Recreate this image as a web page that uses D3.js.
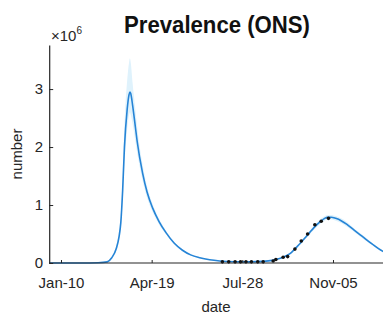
<!DOCTYPE html>
<html>
<head>
<meta charset="utf-8">
<script src="https://cdn.jsdelivr.net/npm/d3@7"></script>
<style>
  body { margin: 0; background: #fff; }
  svg { display: block; font-family: "Liberation Sans", Arial, sans-serif; }
</style>
</head>
<body>
<div id="container"></div>
<script>
/* DATA (values in millions) */
const curveDates = ["2019-12-28","2020-02-01","2020-02-20","2020-03-01","2020-03-06","2020-03-11","2020-03-14","2020-03-16","2020-03-18","2020-03-20",
  "2020-03-23","2020-03-25","2020-03-26","2020-03-27","2020-03-29","2020-04-01","2020-04-03","2020-04-09","2020-04-14","2020-04-20",
  "2020-04-27","2020-05-05","2020-05-14","2020-05-23","2020-06-01","2020-06-11","2020-06-22","2020-07-03","2020-07-20","2020-08-05",
  "2020-08-20","2020-08-30","2020-09-08","2020-09-15","2020-09-20","2020-09-25","2020-09-30","2020-10-05","2020-10-10","2020-10-15",
  "2020-10-21","2020-10-26","2020-10-30","2020-11-03","2020-11-08","2020-11-14","2020-11-20","2020-11-28","2020-12-08","2020-12-18",
  "2020-12-28","2021-01-02"];
const curveVals = [0,0,0.005,0.02,0.09,0.25,0.45,0.7,1.25,2.0,
  2.65,2.9,2.95,2.92,2.72,2.35,2.1,1.55,1.22,0.95,
  0.72,0.52,0.34,0.22,0.14,0.09,0.055,0.035,0.022,0.02,
  0.028,0.045,0.08,0.13,0.18,0.26,0.34,0.43,0.52,0.61,
  0.70,0.76,0.79,0.79,0.77,0.73,0.67,0.57,0.45,0.33,
  0.22,0.18];
const bandUpper = [0,0,0.006,0.025,0.11,0.3,0.55,0.85,1.5,2.4,
  3.15,3.45,3.53,3.45,3.1,2.65,2.35,1.7,1.32,1.02,
  0.77,0.55,0.36,0.235,0.15,0.097,0.06,0.038,0.024,0.022,
  0.031,0.05,0.088,0.14,0.195,0.28,0.36,0.455,0.55,0.645,
  0.74,0.8,0.83,0.83,0.81,0.77,0.71,0.6,0.48,0.35,
  0.235,0.19];
const bandLower = [0,0,0.004,0.016,0.075,0.21,0.38,0.6,1.05,1.7,
  2.3,2.55,2.6,2.55,2.4,2.1,1.9,1.42,1.12,0.88,
  0.67,0.49,0.32,0.205,0.13,0.083,0.05,0.032,0.02,0.018,
  0.025,0.04,0.072,0.12,0.165,0.24,0.32,0.405,0.49,0.575,
  0.66,0.72,0.75,0.75,0.73,0.69,0.63,0.54,0.42,0.31,
  0.205,0.17];
const onsDates = ["2020-07-06","2020-07-13","2020-07-20","2020-07-26","2020-08-01","2020-08-07","2020-08-14","2020-08-20","2020-08-31",
  "2020-09-03","2020-09-11","2020-09-16","2020-09-24","2020-10-01","2020-10-08","2020-10-16","2020-10-23","2020-10-31"];
const onsVals = [0.02,0.02,0.02,0.02,0.02,0.02,0.02,0.02,0.035,
  0.06,0.10,0.11,0.24,0.38,0.50,0.66,0.72,0.77];
const xTickLabels = ["Jan-10","Apr-19","Jul-28","Nov-05"];
const xTickDates = ["2020-01-10","2020-04-19","2020-07-28","2020-11-05"];
const yTicks = [0, 1, 2, 3];

/* CONSTANTS */
const W = 383, H = 317;
const plotLeft = 49.2, plotBase = 263, plotTop = 45;
const parse = d3.utcParse("%Y-%m-%d");

const svg = d3.select("#container").append("svg")
  .attr("width", W).attr("height", H);

/* SCALES */
const xScale = d3.scaleUtc()
  .domain([parse("2019-12-28"), parse("2021-01-02")])
  .range([plotLeft, plotLeft + 371 * 0.9067]);
const yScale = d3.scaleLinear()
  .domain([0, 3.76])
  .range([plotBase, plotTop]);

const curve = curveDates.map((d, i) => ({ date: parse(d), v: curveVals[i], lo: bandLower[i], hi: bandUpper[i] }));
const ons = onsDates.map((d, i) => ({ date: parse(d), v: onsVals[i] }));

svg.append("clipPath").attr("id", "plotclip")
  .append("rect").attr("x", plotLeft).attr("y", 0).attr("width", W - plotLeft).attr("height", plotBase + 1);

const plot = svg.append("g").attr("clip-path", "url(#plotclip)");

// confidence band
plot.append("path")
  .datum(curve)
  .attr("fill", "#dff2fc")
  .attr("d", d3.area()
    .x(d => xScale(d.date))
    .y0(d => yScale(d.lo))
    .y1(d => yScale(d.hi))
    .curve(d3.curveMonotoneX));

// model line
plot.append("path")
  .datum(curve)
  .attr("fill", "none")
  .attr("stroke", "#2684d6")
  .attr("stroke-width", 1.6)
  .attr("d", d3.line()
    .x(d => xScale(d.date))
    .y(d => yScale(d.v))
    .curve(d3.curveMonotoneX));

// ONS points
plot.selectAll("circle.ons")
  .data(ons)
  .join("circle")
  .attr("class", "ons")
  .attr("cx", d => xScale(d.date))
  .attr("cy", d => yScale(d.v))
  .attr("r", 1.8)
  .attr("fill", "#111");

/* AXES */
const xAxis = d3.axisBottom(xScale)
  .tickValues(xTickDates.map(parse))
  .tickFormat((d, i) => xTickLabels[i])
  .tickSizeInner(-3)
  .tickSizeOuter(0)
  .tickPadding(14);
const xAxisGroup = svg.append("g")
  .attr("transform", `translate(0, ${plotBase})`)
  .call(xAxis);
xAxisGroup.select(".domain").remove();
xAxisGroup.selectAll("line").attr("stroke", "#262626");
xAxisGroup.selectAll("text")
  .attr("fill", "#262626")
  .attr("font-size", 15)
  .attr("font-family", "Liberation Sans, Arial, sans-serif");

svg.append("line")
  .attr("x1", plotLeft).attr("x2", W)
  .attr("y1", plotBase).attr("y2", plotBase)
  .attr("stroke", "#262626").attr("stroke-width", 1.2);

const yAxis = d3.axisLeft(yScale)
  .tickValues(yTicks)
  .tickFormat(d3.format("d"))
  .tickSizeInner(-4)
  .tickSizeOuter(0)
  .tickPadding(6);
const yAxisGroup = svg.append("g")
  .attr("transform", `translate(${plotLeft}, 0)`)
  .call(yAxis);
yAxisGroup.select(".domain").attr("stroke", "#262626").attr("stroke-width", 1.2);
yAxisGroup.selectAll("line").attr("stroke", "#262626");
yAxisGroup.selectAll("text")
  .attr("fill", "#262626")
  .attr("font-size", 15)
  .attr("font-family", "Liberation Sans, Arial, sans-serif");

// exponent label
const expo = svg.append("text")
  .attr("x", 51).attr("y", 41)
  .attr("fill", "#262626")
  .attr("font-size", 15);
expo.append("tspan").text("\u00d710");
expo.append("tspan").attr("dy", -7).attr("font-size", 10).text("6");

// axis labels
svg.append("text")
  .attr("x", 216).attr("y", 312)
  .attr("text-anchor", "middle")
  .attr("fill", "#262626")
  .attr("font-size", 15)
  .text("date");

svg.append("text")
  .attr("transform", "translate(22, 154) rotate(-90)")
  .attr("text-anchor", "middle")
  .attr("fill", "#262626")
  .attr("font-size", 15)
  .text("number");

// title
svg.append("text")
  .attr("x", 217).attr("y", 33)
  .attr("text-anchor", "middle")
  .attr("fill", "#111")
  .attr("font-size", 24)
  .attr("font-weight", "bold")
  .attr("textLength", 186)
  .attr("lengthAdjust", "spacingAndGlyphs")
  .text("Prevalence (ONS)");
</script>
</body>
</html>
